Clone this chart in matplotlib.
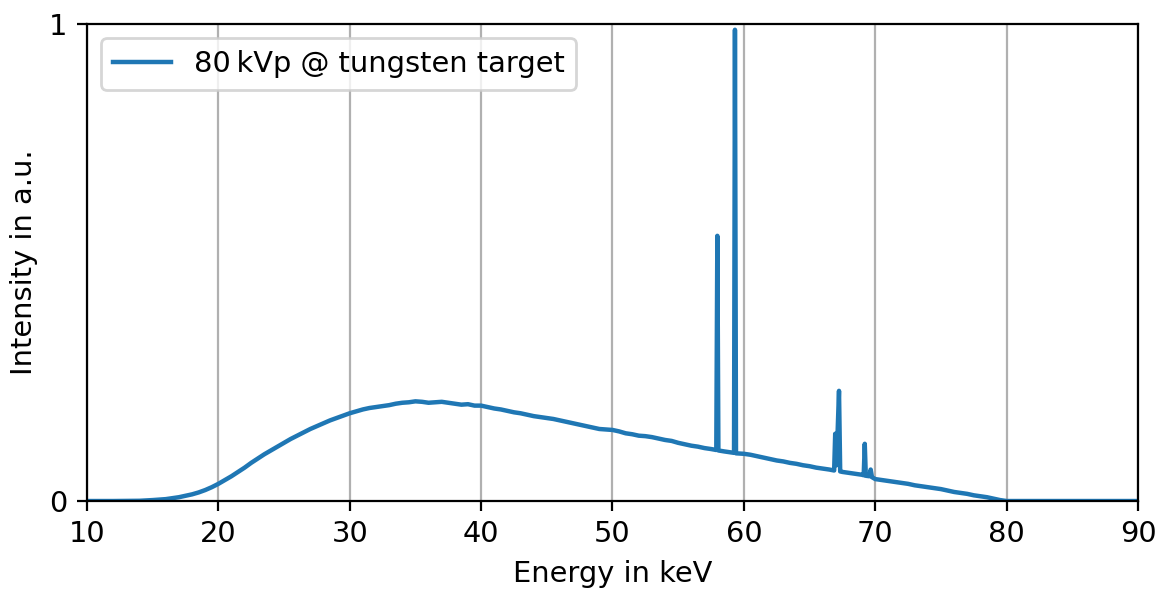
import numpy as np
import matplotlib
matplotlib.use('Agg')
import matplotlib.pyplot as plt

# spectrum (energy in keV, intensity in a.u.)
energy_kev = [
    10, 12, 14, 15, 16, 17, 17.5, 18, 18.5, 19,
    19.5, 20, 20.5, 21, 21.5, 22, 22.5, 23, 23.5, 24,
    24.5, 25, 25.5, 26, 26.5, 27, 27.5, 28, 28.5, 29,
    29.5, 30, 30.5, 31, 31.5, 32, 32.5, 33, 33.5, 34,
    34.5, 35, 35.5, 36, 36.5, 37, 37.5, 38, 38.5, 39,
    39.5, 40, 40.5, 41, 41.5, 42, 42.5, 43, 43.5, 44,
    44.5, 45, 45.5, 46, 46.5, 47, 47.5, 48, 48.5, 49,
    49.5, 50, 50.5, 51, 51.5, 52, 52.5, 53, 53.5, 54,
    54.5, 55, 55.5, 56, 56.5, 57, 57.5, 57.9, 57.98, 58.06,
    58.5, 59, 59.25, 59.32, 59.4, 60, 60.5, 61, 61.5, 62,
    62.5, 63, 63.5, 64, 64.5, 65, 65.5, 66, 66.5, 66.87,
    66.95, 67.05, 67.24, 67.33, 67.5, 68, 68.5, 69, 69.12, 69.2,
    69.28, 69.55, 69.65, 69.75, 70, 70.5, 71, 71.5, 72, 72.5,
    73, 73.5, 74, 74.5, 75, 75.5, 76, 76.5, 77, 77.5,
    78, 78.5, 79, 79.5, 80, 82, 86, 90,
]

intensity = [
    0, 0, 0.0005, 0.002, 0.004, 0.008, 0.011, 0.014, 0.018, 0.023,
    0.029, 0.036, 0.044, 0.052, 0.061, 0.070, 0.080, 0.089, 0.098, 0.106,
    0.114, 0.122, 0.130, 0.137, 0.144, 0.151, 0.157, 0.163, 0.169, 0.174,
    0.179, 0.184, 0.188, 0.192, 0.195, 0.197, 0.199, 0.201, 0.204, 0.206,
    0.207, 0.209, 0.208, 0.206, 0.207, 0.208, 0.206, 0.204, 0.202, 0.203,
    0.200, 0.200, 0.197, 0.194, 0.192, 0.189, 0.186, 0.184, 0.181, 0.178,
    0.176, 0.174, 0.172, 0.169, 0.166, 0.163, 0.160, 0.157, 0.154, 0.151,
    0.150, 0.149, 0.146, 0.142, 0.140, 0.137, 0.136, 0.134, 0.131, 0.128,
    0.126, 0.122, 0.119, 0.116, 0.114, 0.111, 0.109, 0.107, 0.556, 0.106,
    0.104, 0.102, 0.101, 0.988, 0.100, 0.099, 0.097, 0.094, 0.091, 0.088,
    0.085, 0.083, 0.080, 0.078, 0.075, 0.073, 0.070, 0.068, 0.066, 0.064,
    0.141, 0.075, 0.231, 0.062, 0.061, 0.059, 0.057, 0.055, 0.054, 0.120,
    0.053, 0.052, 0.066, 0.050, 0.046, 0.044, 0.042, 0.040, 0.038, 0.036,
    0.033, 0.031, 0.029, 0.027, 0.025, 0.022, 0.019, 0.017, 0.015, 0.012,
    0.010, 0.008, 0.005, 0.002, 0.0, 0.0, 0.0, 0.0,
]

x_ticks = [10, 20, 30, 40, 50, 60, 70, 80, 90]
y_ticks = [0, 1]
label = '80\u2009kVp @ tungsten target'

plt.rcParams['font.size'] = 10.4

fig, ax = plt.subplots(figsize=(5.82, 2.95), dpi=200)
fig.subplots_adjust(left=0.0747, right=0.9777, top=0.9593, bottom=0.1508)

ax.plot(energy_kev, intensity, color='#1f77b4', lw=1.6, label=label)

ax.set_xlim(10, 90)
ax.set_ylim(0, 1)
ax.set_xticks(x_ticks)
ax.set_yticks(y_ticks)
ax.grid(axis='x')
ax.set_axisbelow(True)
ax.set_xlabel('Energy in keV')
ax.set_ylabel('Intensity in a.u.')
ax.legend(loc='upper left')

fig.savefig('out.png', dpi=200)
